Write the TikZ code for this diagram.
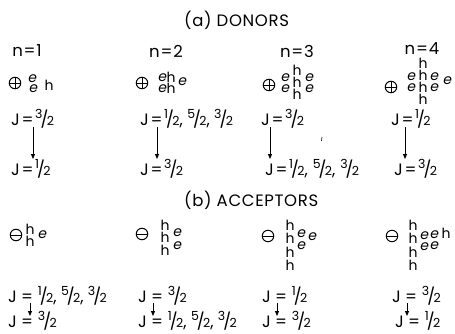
\documentclass[tikz,border=0pt]{standalone}
\usepackage{fontspec}
\setmainfont{Poppins}
\newfontfamily\slfont[FakeSlant=0.18]{Poppins}
\usetikzlibrary{arrows.meta}
% split fraction: raised numerator, slash, lowered denominator
\newcommand\fr[2]{\raisebox{.42em}{\fontsize{12.5}{12.5}\selectfont#1}\kern-.12em/\kern-.1em{\fontsize{12.5}{12.5}\selectfont#2}}
\newcommand\Jeq{J\kern.1em=\kern.1em}
\newcommand\Jsp{J\kern.25em=\kern.3em}
\begin{document}
\begin{tikzpicture}[x=1pt,y=-1pt,
  font=\fontsize{16.5}{16.5}\selectfont,
  title/.style={inner sep=0,anchor=west,font={\fontsize{16.5}{16.5}\selectfont\addfontfeatures{LetterSpace=4}}},
  lab/.style={inner sep=0},
  jval/.style={inner sep=0,anchor=base west},
  hole/.style={inner sep=0,font=\fontsize{14}{14}\selectfont},
  elec/.style={inner sep=0,font={\slfont\fontsize{14}{14}\selectfont}},
  ion/.style={circle,draw,line width=1pt,minimum size=11.5pt,inner sep=0},
  donor/.style={ion,path picture={\draw[line width=1pt]
     (path picture bounding box.north) -- (path picture bounding box.south)
     (path picture bounding box.west) -- (path picture bounding box.east);}},
  acceptor/.style={ion,path picture={\draw[line width=1pt]
     (path picture bounding box.west) -- (path picture bounding box.east);}},
  trans/.style={line width=0.8pt,-{Triangle[length=5pt,width=4pt]}}]
\useasboundingbox (0,0) rectangle (455,333);

% ---------------- (a) donors ----------------
\node[title] (ta) at (184,20) {(a) DONORS};

\node[lab] (n1) at (27,51) {n\kern.05em=\kern.05em1};
\node[lab] (n2) at (166,51) {n\kern.05em=\kern.05em2};
\node[lab] (n3) at (297,51) {n\kern.05em=\kern.05em3};
\node[lab] (n4) at (422,49) {n\kern.05em=\kern.05em4};

\node[donor] (d1) at (15,83) {};
\node[donor] (d2) at (142,83) {};
\node[donor] (d3) at (269,85) {};
\node[donor] (d4) at (391,87) {};

% n = 1
\node[elec] (d1e1) at (32,79) {e};
\node[elec] (d1e2) at (33,89) {e};
\node[hole] (d1h1) at (49,85) {h};
% n = 2
\node[elec] (d2e1) at (162,78) {e};
\node[hole] (d2h1) at (171,77) {h};
\node[elec] (d2e2) at (182,82) {e};
\node[elec] (d2e3) at (162,89) {e};
\node[hole] (d2h2) at (171,88) {h};
% n = 3
\foreach \k/\y in {1/70,2/82,3/94} \node[hole] (d3h\k) at (297,\y) {h};
\foreach \k/\x/\y in {1/285/78,2/309/78,3/285/89,4/309/89} \node[elec] (d3e\k) at (\x,\y) {e};
% n = 4
\foreach \k/\y in {1/63,2/75,3/87,4/99} \node[hole] (d4h\k) at (423,\y) {h};
\foreach \k/\x/\y in {1/411/77,2/434/77,3/447/81,4/411/88,5/434/88} \node[elec] (d4e\k) at (\x,\y) {e};

\node[jval] (dj1a) at (11,125) {\Jeq\fr32};
\node[jval] (dj2a) at (140,125) {\Jeq\fr12, \fr52, \fr32};
\node[jval] (dj3a) at (261,125) {\Jeq\fr32};
\node[jval] (dj4a) at (391,125) {\Jeq\fr12};

\node[jval] (dj1b) at (11,175) {\Jeq\fr12};
\node[jval] (dj2b) at (140,175) {\Jeq\fr32};
\node[jval] (dj3b) at (265,175) {\Jeq\fr12,\kern.3em\fr52,\kern.3em\fr32};
\node[jval] (dj4b) at (394,175) {\Jeq\fr32};

\foreach \k/\x in {1/33,2/157,3/270,4/405}{
  \coordinate (dt\k) at (\x,127);
  \coordinate (db\k) at (\x,159);
  \draw[trans] (dt\k) -- (db\k);
}
\draw[line width=0.6pt] (322,137) -- (321.4,141);

% ---------------- (b) acceptors ----------------
\node[title] (tb) at (184,200) {(b) ACCEPTORS};

\node[acceptor] (a1) at (16,235) {};
\node[acceptor] (a2) at (142,234) {};
\node[acceptor] (a3) at (268,236) {};
\node[acceptor] (a4) at (392,236) {};

% n = 1
\node[hole] (a1h1) at (30,229) {h};
\node[hole] (a1h2) at (30,241) {h};
\node[elec] (a1e1) at (42,235) {e};
% n = 2
\foreach \k/\y in {1/225,2/237.5,3/250} \node[hole] (a2h\k) at (165,\y) {h};
\node[elec] (a2e1) at (177,233) {e};
\node[elec] (a2e2) at (177,245.5) {e};
% n = 3
\foreach \k/\y in {1/225,2/238.5,3/252,4/265.5} \node[hole] (a3h\k) at (290,\y) {h};
\node[elec] (a3e1) at (301,234) {e};
\node[elec] (a3e2) at (312,237) {e};
\node[elec] (a3e3) at (301,246) {e};
% n = 4
\foreach \k/\y in {1/225,2/238.5,3/252,4/265.5} \node[hole] (a4h\k) at (413,\y) {h};
\node[elec] (a4e1) at (424,236) {e};
\node[elec] (a4e2) at (434,235) {e};
\node[hole] (a4h5) at (446,233) {h};
\node[elec] (a4e3) at (424,247) {e};
\node[elec] (a4e4) at (434,246) {e};

\node[jval] (aj1a) at (8,302) {\Jsp\fr12, \fr52, \fr32};
\node[jval] (aj2a) at (138,302) {\Jsp\fr32};
\node[jval] (aj3a) at (262,302) {\Jsp\fr12};
\node[jval] (aj4a) at (392,302) {\Jsp\fr32};

\node[jval] (aj1b) at (8,327) {\Jsp\fr32};
\node[jval] (aj2b) at (138,327) {\Jsp\fr12, \fr52, \fr32};
\node[jval] (aj3b) at (262,327) {\Jsp\fr32};
\node[jval] (aj4b) at (395,327) {\Jsp\fr12};

\foreach \k/\x in {1/30,2/153,3/277,4/407}{
  \coordinate (at\k) at (\x,303);
  \coordinate (ab\k) at (\x,316);
  \draw[trans] (at\k) -- (ab\k);
}
\end{tikzpicture}
\end{document}
